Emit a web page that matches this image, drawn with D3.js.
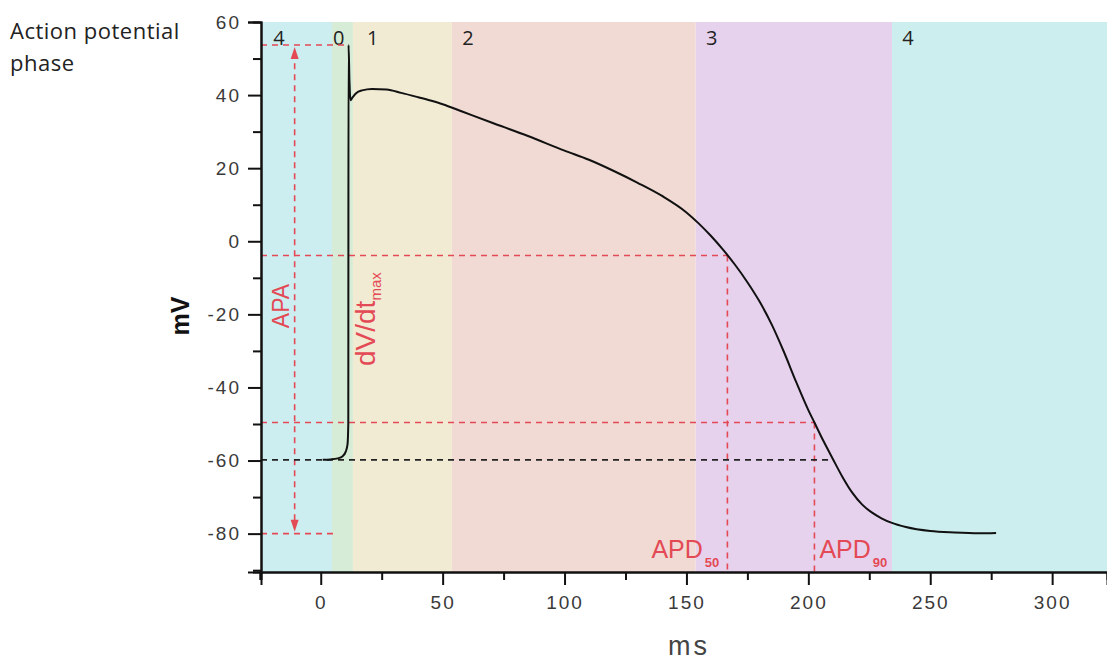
<!DOCTYPE html>
<html>
<head>
<meta charset="UTF-8">
<script src="https://d3js.org/d3.v7.min.js"></script>
<style>
  body { margin: 0; background: #fff; }
  svg { display: block; font-family: "Liberation Sans", Arial, sans-serif; }
  .tick text { fill: #3a3a3a; font-size: 19px; letter-spacing: 2px; }
  .red { fill: #e34a55; }
</style>
</head>
<body>
<svg width="1107" height="660"></svg>
<script>
// action potential trace (ms, mV)
const timeMs = [0.8, 4, 7, 9, 10.3, 11.0, 11.3, 11.4, 11.8, 12.2, 13, 14.5, 17, 21, 27, 33, 40, 45, 50, 58,
  70, 85, 100, 110, 120, 130, 140, 150, 155, 160, 165, 170, 175, 180, 185, 190, 195, 200, 202.5, 206, 210,
  214, 218, 222, 226, 230, 234, 240, 250, 260, 270, 277];
const voltage = [-59.8, -59.7, -59.4, -58.8, -57.5, -55.5, -50, 53.7, 43.5, 38.6, 39.3, 40.5, 41.3, 41.7, 41.5, 40.6, 39.4, 38.5, 37.5, 35.5,
  32.5, 28.8, 24.8, 22.3, 19.3, 16, 12.4, 7.9, 4.9, 1.5, -2.3, -6.5, -11.2, -16.5, -22.8, -30.3, -38.5, -46.2, -49.6, -54.4, -59.5,
  -64.5, -68.8, -72.0, -74.2, -75.8, -77, -78.2, -79.3, -79.7, -79.9, -79.8];

// phase bands
const phaseNames = ["4", "0", "1", "2", "3", "4"];
const phaseStart = [-24.5, 4.6, 13.2, 53.8, 153.8, 234.3];
const phaseEnd = [4.6, 13.2, 53.8, 153.8, 234.3, 322.5];
const phaseLabelAt = [-19.5, 5, 19, 58, 158, 238.5];
const phaseColors = ["#cdeef0", "#d6ecd6", "#f2ebd4", "#f1dad3", "#e7d2ee", "#cdeeee"];

// markers
const peakMv = 53.7, peakMs = 11.4;
const restMv = -59.8, minMv = -80;
const apaMs = -10.7;
const apd50 = [166.8, -3.9];
const apd90 = [202.5, -49.6];

const xTicks = [0, 50, 100, 150, 200, 250, 300];
const xMinor = [-25, 25, 75, 125, 175, 225, 275];
const yTicks = [-80, -60, -40, -20, 0, 20, 40, 60];
const yMinor = [-90, -70, -50, -30, -10, 10, 30, 50];

const svg = d3.select("svg");
const x = d3.scaleLinear().domain([-24.5, 322.5]).range([261, 1107]);
const y = d3.scaleLinear().domain([-90.5, 60]).range([572, 22]);
const red = "#e34a55";

// bands
svg.append("g").selectAll("rect").data(phaseNames).join("rect")
  .attr("x", (d, i) => x(phaseStart[i]))
  .attr("width", (d, i) => x(phaseEnd[i]) - x(phaseStart[i]))
  .attr("y", y(60)).attr("height", y(-90.5) - y(60))
  .attr("fill", (d, i) => phaseColors[i]);

svg.append("g").selectAll("text").data(phaseNames).join("text")
  .attr("x", (d, i) => x(phaseLabelAt[i]))
  .attr("y", 45)
  .attr("font-size", 20).attr("fill", "#222")
  .attr("font-family", "Open Sans")
  .text(d => d);

// dashed guides
function dash(x1, y1, x2, y2, col, w) {
  svg.append("line")
    .attr("x1", x(x1)).attr("y1", y(y1)).attr("x2", x(x2)).attr("y2", y(y2))
    .attr("stroke", col).attr("stroke-width", w || 1.6)
    .attr("stroke-dasharray", "6,5");
}
dash(-24.5, peakMv, peakMs, peakMv, red);
dash(-24.5, minMv, 5.5, minMv, red);
dash(apaMs, peakMv - 2, apaMs, minMv + 2, red);
dash(-24.5, apd50[1], apd50[0], apd50[1], red);
dash(apd50[0], apd50[1], apd50[0], -90.5, red);
dash(-24.5, apd90[1], apd90[0], apd90[1], red);
dash(apd90[0], apd90[1], apd90[0], -90.5, red);
dash(-24.5, restMv, 210.5, restMv, "#222", 1.8);

// APA arrowheads
const ax = x(apaMs);
svg.append("path")
  .attr("d", `M${ax},${y(peakMv) + 2} l-4,12 l8,0 z`).attr("fill", red);
svg.append("path")
  .attr("d", `M${ax},${y(minMv) - 2} l-4,-12 l8,0 z`).attr("fill", red);

// trace
svg.append("path")
  .datum(timeMs.map((t, i) => [t, voltage[i]]))
  .attr("fill", "none").attr("stroke", "#111").attr("stroke-width", 2)
  .attr("d", d3.line().x(d => x(d[0])).y(d => y(d[1])).curve(d3.curveMonotoneX));

// axes
const xAxis = svg.append("g").attr("transform", "translate(0,572)");
xAxis.call(d3.axisBottom(x).tickValues(xTicks).tickSize(13).tickPadding(6).tickFormat(d => d));
xAxis.append("g").call(d3.axisBottom(x).tickValues(xMinor).tickSize(8).tickFormat(""));
xAxis.selectAll(".domain").attr("stroke", "#111").attr("stroke-width", 2);
xAxis.selectAll(".tick line").attr("stroke", "#111").attr("stroke-width", 2);

const yAxis = svg.append("g").attr("transform", "translate(261,0)");
yAxis.call(d3.axisLeft(y).tickValues(yTicks).tickSize(13).tickPadding(7).tickFormat(d => d));
yAxis.append("g").call(d3.axisLeft(y).tickValues(yMinor).tickSize(8).tickFormat(""));
yAxis.selectAll(".domain").attr("stroke", "#111").attr("stroke-width", 2);
yAxis.selectAll(".tick line").attr("stroke", "#111").attr("stroke-width", 2);
svg.selectAll(".tick text").attr("font-family", null);
xAxis.selectAll(".tick text").attr("dy", "0.95em");

// axis titles
svg.append("text").attr("x", 668).attr("y", 655)
  .attr("font-size", 27).attr("fill", "#444").attr("letter-spacing", 3)
  .text("ms");
svg.append("text").attr("transform", "translate(189,316) rotate(-90)")
  .attr("text-anchor", "middle").attr("font-size", 25).attr("font-weight", "bold").attr("fill", "#111")
  .text("mV");

svg.append("text").attr("x", 10).attr("y", 39).attr("font-size", 22).attr("fill", "#222")
  .attr("font-family", "Open Sans").attr("letter-spacing", 0.5).text("Action potential");
svg.append("text").attr("x", 10).attr("y", 71).attr("font-size", 22).attr("fill", "#222")
  .attr("font-family", "Open Sans").attr("letter-spacing", 0.5).text("phase");

// red annotations
svg.append("text").attr("class", "red").attr("transform", `translate(${ax - 6},306) rotate(-90)`)
  .attr("text-anchor", "middle").attr("font-size", 23).text("APA");

const dv = svg.append("text").attr("class", "red").attr("transform", "translate(375,366) rotate(-90)")
  .attr("font-size", 28);
dv.append("tspan").text("dV/dt");
dv.append("tspan").attr("font-size", 15).attr("dy", 6).text("max");

function apd(xPos, sub) {
  const t = svg.append("text").attr("class", "red")
    .attr("x", xPos).attr("y", 558).attr("font-size", 25);
  t.append("tspan").text("APD");
  t.append("tspan").attr("font-size", 13).attr("font-weight", "bold").attr("dy", 9).attr("dx", 2).text(sub);
}
apd(x(apd50[0]) - 76, "50");
apd(x(apd90[0]) + 5, "90");
</script>
</body>
</html>
